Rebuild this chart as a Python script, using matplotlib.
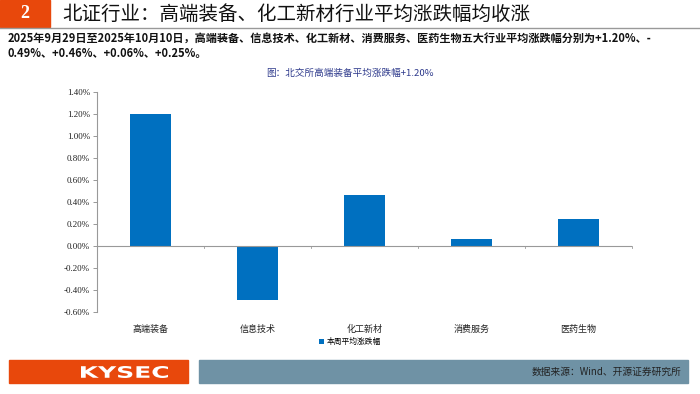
import matplotlib.pyplot as plt
from matplotlib.patches import Rectangle, PathPatch
from matplotlib.textpath import TextPath
from matplotlib.font_manager import FontProperties
from matplotlib.transforms import Affine2D
from matplotlib.ticker import FuncFormatter

plt.rcParams['font.family'] = ['Noto Sans CJK SC', 'DejaVu Sans']

categories = ['高端装备', '信息技术', '化工新材', '消费服务', '医药生物']
values = [1.20, -0.49, 0.46, 0.06, 0.25]
yticks = [-0.6, -0.4, -0.2, 0.0, 0.2, 0.4, 0.6, 0.8, 1.0, 1.2, 1.4]

W, H = 700, 394
fig = plt.figure(figsize=(7, 3.94), dpi=100)

def px(x, y, w, h):
    return [x / W, 1 - (y + h) / H, w / W, h / H]

# header
fig.patches.append(Rectangle((0, 1 - 27 / H), 50 / W, 27 / H, transform=fig.transFigure,
                             color='#E8480C', zorder=0))
fig.add_artist(plt.Line2D([0, 1], [1 - 28 / H, 1 - 28 / H], transform=fig.transFigure,
                          color='#999999', lw=1))
fig.text(25 / W, 1 - 14 / H, '2', color='white', fontsize=13, fontweight='bold',
         ha='center', va='center', family='Liberation Serif')
fig.text(62 / W, 1 - 14 / H, '北证行业：高端装备、化工新材行业平均涨跌幅均收涨',
         fontsize=14, ha='left', va='center', color='#111111')

fig.text(8 / W, 1 - 38 / H,
         '2025年9月29日至2025年10月10日，高端装备、信息技术、化工新材、消费服务、医药生物五大行业平均涨跌幅分别为+1.20%、-',
         fontsize=8, fontweight='bold', ha='left', va='center', color='#111111')
fig.text(8 / W, 1 - 54 / H, '0.49%、+0.46%、+0.06%、+0.25%。',
         fontsize=8, fontweight='bold', ha='left', va='center', color='#111111')

fig.text(350 / W, 1 - 73 / H, '图：北交所高端装备平均涨跌幅+1.20%', fontsize=6.9,
         ha='center', va='center', color='#2E3A8C')

# chart
ax = fig.add_axes(px(97, 92, 535, 220))
x = range(len(categories))
bars = ax.bar(x, values, width=0.39, color='#0070C0', label='本周平均涨跌幅')
ax.set_xlim(-0.5, len(categories) - 0.5)
ax.set_ylim(-0.6, 1.4)
ax.set_yticks(yticks)
ax.yaxis.set_major_formatter(FuncFormatter(lambda v, p: '%.2f%%' % v))
for lab in ax.get_yticklabels():
    lab.set_family('Liberation Serif')
    lab.set_fontsize(6.5)
ax.tick_params(axis='y', length=3, width=0.6, color='#888888', pad=2, labelcolor='#222222')
ax.set_xticks([])
for s in ['top', 'right', 'bottom']:
    ax.spines[s].set_visible(False)
ax.spines['left'].set_color('#999999')
ax.spines['left'].set_linewidth(0.8)
ax.axhline(0, color='#999999', lw=0.8, zorder=3)
for b in [0.5, 1.5, 2.5, 3.5, 4.5]:
    ax.plot([b, b], [0, -0.02], color='#999999', lw=0.6, clip_on=False)
for i, c in enumerate(categories):
    ax.text(i, -0.76, c, ha='center', va='center', fontsize=6.5, color='#222222')

leg = fig.legend(handles=[bars], loc='center', bbox_to_anchor=(350 / W, 1 - 342 / H),
                 frameon=False, fontsize=5.6, handlelength=0.6, handleheight=0.6,
                 handletextpad=0.3)

# footer
fig.patches.append(Rectangle((9 / W, 1 - 383 / H), 179 / W, 23 / H, transform=fig.transFigure,
                             color='#E8480C', zorder=0))
fig.patches.append(Rectangle((199 / W, 1 - 383 / H), 489 / W, 23 / H, transform=fig.transFigure,
                             color='#6F92A5', zorder=0))
# stretched KYSEC logo text
tp = TextPath((0, 0), 'KYSEC', size=1, prop=FontProperties(family='DejaVu Sans', weight='bold'))
bb = tp.get_extents()
tr = (Affine2D().translate(-bb.x0, -bb.y0)
      .scale(87 / bb.width / W, 12 / bb.height / H)
      .translate(81 / W, 1 - 378 / H)) + fig.transFigure
fig.add_artist(PathPatch(tp, transform=tr, color='white', lw=0, zorder=2))
fig.text(682 / W, 1 - 372 / H, '数据来源：Wind、开源证券研究所', color='#222222', fontsize=7,
         ha='right', va='center')

fig.savefig('out.png', dpi=100)
